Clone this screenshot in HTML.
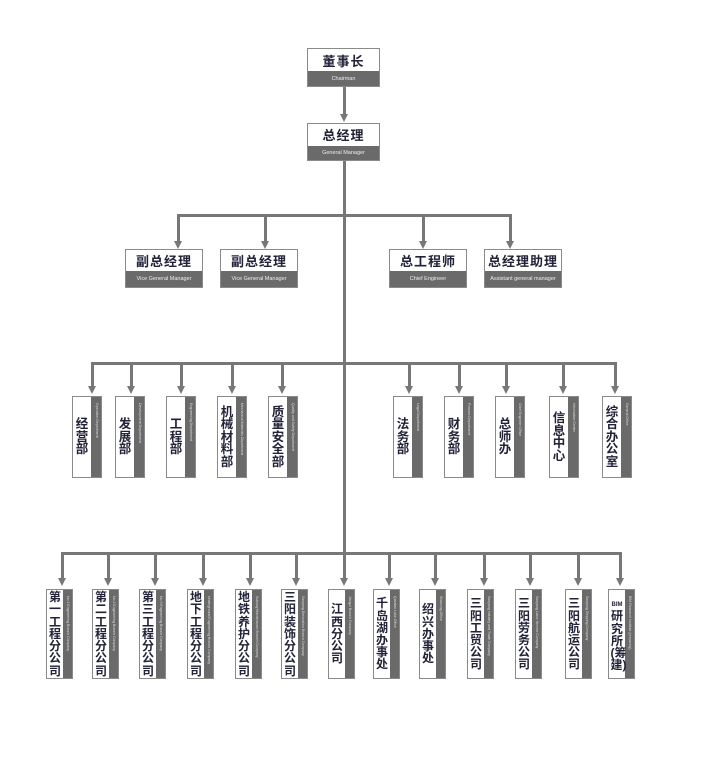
<!DOCTYPE html>
<html><head><meta charset="utf-8"><style>
body{margin:0;width:701px;height:778px;background:#fff;position:relative;overflow:hidden;font-family:"Liberation Sans","Noto Sans CJK SC",sans-serif}
.l{position:absolute;background:#777}
.a{position:absolute;width:0;height:0;border-left:4.5px solid transparent;border-right:4.5px solid transparent;border-top:8px solid #777}
.h{position:absolute;border:1.5px solid #8a8a8a;background:#6a6a6a;box-sizing:border-box}
.h .t{background:#fff;height:58%;display:flex;align-items:center;justify-content:center;font-weight:bold;font-size:13px;color:#222238;letter-spacing:1px}
.h .e{color:#eee;font-size:5.5px;text-align:center;height:42%;display:flex;align-items:center;justify-content:center}
.v{position:absolute;border:1.5px solid #8a8a8a;background:#6a6a6a;box-sizing:border-box}
.v .t{position:absolute;left:0;top:0;bottom:0;background:#fff;display:flex;align-items:center;justify-content:center;font-weight:bold;font-size:12.5px;line-height:12.5px;color:#222238}
.v .t div{width:13px;word-break:break-all;text-align:center}
.v .e{position:absolute;right:0;top:6px;bottom:6px;width:9px;writing-mode:vertical-rl;font-size:3.5px;color:#ddd;overflow:hidden;line-height:9px}
.t2{top:396px;height:82px;width:30px}.t2 .t{width:18px}
.t3{top:589px;height:90px;width:27px}.t3 .t{width:16px;font-size:12px;line-height:12.2px}
</style></head><body>
<div class="h" style="left:307px;top:48px;width:73px;height:39px"><div class="t" style="height:60%">董事长</div><div class="e" style="height:40%">Chairman</div></div>
<div class="l" style="left:343px;top:87px;width:2.5px;height:28px"></div><div class="a" style="left:339.5px;top:114px"></div>
<div class="h" style="left:307px;top:123px;width:73px;height:38px"><div class="t" style="height:60%">总经理</div><div class="e" style="height:40%">General Manager</div></div>
<div class="l" style="left:343px;top:161px;width:2.5px;height:393px"></div>
<div class="l" style="left:177px;top:214px;width:334px;height:2.5px"></div>
<div class="l" style="left:177px;top:214px;width:2.5px;height:28px"></div><div class="a" style="left:174px;top:241px"></div>
<div class="l" style="left:264px;top:214px;width:2.5px;height:28px"></div><div class="a" style="left:261px;top:241px"></div>
<div class="l" style="left:422px;top:214px;width:2.5px;height:28px"></div><div class="a" style="left:419px;top:241px"></div>
<div class="l" style="left:509px;top:214px;width:2.5px;height:28px"></div><div class="a" style="left:506px;top:241px"></div>
<div class="h" style="left:125px;top:249px;width:78px;height:39px"><div class="t">副总经理</div><div class="e">Vice General Manager</div></div>
<div class="h" style="left:220px;top:249px;width:78px;height:39px"><div class="t">副总经理</div><div class="e">Vice General Manager</div></div>
<div class="h" style="left:389px;top:249px;width:78px;height:39px"><div class="t">总工程师</div><div class="e">Chief Engineer</div></div>
<div class="h" style="left:484px;top:249px;width:78px;height:39px"><div class="t">总经理助理</div><div class="e">Assistant general manager</div></div>
<div class="l" style="left:91px;top:362px;width:526px;height:2.5px"></div>
<div class="l" style="left:91px;top:362px;width:2.5px;height:25px"></div><div class="a" style="left:88px;top:386px"></div>
<div class="l" style="left:130px;top:362px;width:2.5px;height:25px"></div><div class="a" style="left:127px;top:386px"></div>
<div class="l" style="left:180px;top:362px;width:2.5px;height:25px"></div><div class="a" style="left:177px;top:386px"></div>
<div class="l" style="left:231px;top:362px;width:2.5px;height:25px"></div><div class="a" style="left:228px;top:386px"></div>
<div class="l" style="left:281px;top:362px;width:2.5px;height:25px"></div><div class="a" style="left:278px;top:386px"></div>
<div class="l" style="left:408px;top:362px;width:2.5px;height:25px"></div><div class="a" style="left:405px;top:386px"></div>
<div class="l" style="left:458px;top:362px;width:2.5px;height:25px"></div><div class="a" style="left:455px;top:386px"></div>
<div class="l" style="left:505px;top:362px;width:2.5px;height:25px"></div><div class="a" style="left:502px;top:386px"></div>
<div class="l" style="left:562px;top:362px;width:2.5px;height:25px"></div><div class="a" style="left:559px;top:386px"></div>
<div class="l" style="left:614px;top:362px;width:2.5px;height:25px"></div><div class="a" style="left:611px;top:386px"></div>
<div class="v t2" style="left:72px"><div class="t"><div>经营部</div></div><div class="e">Operation Department</div></div>
<div class="v t2" style="left:115px"><div class="t"><div>发展部</div></div><div class="e">Development Department</div></div>
<div class="v t2" style="left:166px"><div class="t"><div>工程部</div></div><div class="e">Engineering Department</div></div>
<div class="v t2" style="left:217px"><div class="t"><div>机械材料部</div></div><div class="e">Mechanical Materials Department</div></div>
<div class="v t2" style="left:268px"><div class="t"><div>质量安全部</div></div><div class="e">Quality and Safety Department</div></div>
<div class="v t2" style="left:393px"><div class="t"><div>法务部</div></div><div class="e">Legal Department</div></div>
<div class="v t2" style="left:444px"><div class="t"><div>财务部</div></div><div class="e">Finance Department</div></div>
<div class="v t2" style="left:495px"><div class="t"><div>总师办</div></div><div class="e">Chief Engineer Office</div></div>
<div class="v t2" style="left:549px"><div class="t"><div>信息中心</div></div><div class="e">Information Center</div></div>
<div class="v t2" style="left:602px"><div class="t"><div>综合办公室</div></div><div class="e">General Office</div></div>
<div class="l" style="left:61px;top:552px;width:561px;height:2.5px"></div>
<div class="l" style="left:61px;top:552px;width:2.5px;height:27px"></div><div class="a" style="left:58px;top:578px"></div>
<div class="l" style="left:107px;top:552px;width:2.5px;height:27px"></div><div class="a" style="left:104px;top:578px"></div>
<div class="l" style="left:154px;top:552px;width:2.5px;height:27px"></div><div class="a" style="left:151px;top:578px"></div>
<div class="l" style="left:202px;top:552px;width:2.5px;height:27px"></div><div class="a" style="left:199px;top:578px"></div>
<div class="l" style="left:249px;top:552px;width:2.5px;height:27px"></div><div class="a" style="left:246px;top:578px"></div>
<div class="l" style="left:295px;top:552px;width:2.5px;height:27px"></div><div class="a" style="left:292px;top:578px"></div>
<div class="l" style="left:343px;top:552px;width:2.5px;height:27px"></div><div class="a" style="left:340px;top:578px"></div>
<div class="l" style="left:388px;top:552px;width:2.5px;height:27px"></div><div class="a" style="left:385px;top:578px"></div>
<div class="l" style="left:434px;top:552px;width:2.5px;height:27px"></div><div class="a" style="left:431px;top:578px"></div>
<div class="l" style="left:483px;top:552px;width:2.5px;height:27px"></div><div class="a" style="left:480px;top:578px"></div>
<div class="l" style="left:529px;top:552px;width:2.5px;height:27px"></div><div class="a" style="left:526px;top:578px"></div>
<div class="l" style="left:577px;top:552px;width:2.5px;height:27px"></div><div class="a" style="left:574px;top:578px"></div>
<div class="l" style="left:619px;top:552px;width:2.5px;height:27px"></div><div class="a" style="left:616px;top:578px"></div>
<div class="v t3" style="left:46px"><div class="t"><div>第一工程分公司</div></div><div class="e">No.1 Engineering Branch Company</div></div>
<div class="v t3" style="left:92px"><div class="t"><div>第二工程分公司</div></div><div class="e">No.2 Engineering Branch Company</div></div>
<div class="v t3" style="left:139px"><div class="t"><div>第三工程分公司</div></div><div class="e">No.3 Engineering Branch Company</div></div>
<div class="v t3" style="left:187px"><div class="t"><div>地下工程分公司</div></div><div class="e">Underground Engineering Branch Company</div></div>
<div class="v t3" style="left:235px"><div class="t"><div>地铁养护分公司</div></div><div class="e">Subway Maintenance Branch Company</div></div>
<div class="v t3" style="left:281px"><div class="t"><div>三阳装饰分公司</div></div><div class="e">Sanyang Decoration Branch Company</div></div>
<div class="v t3" style="left:328px"><div class="t"><div>江西分公司</div></div><div class="e">Jiangxi Branch Company</div></div>
<div class="v t3" style="left:373px"><div class="t"><div>千岛湖办事处</div></div><div class="e">Qiandao Lake Office</div></div>
<div class="v t3" style="left:419px"><div class="t"><div>绍兴办事处</div></div><div class="e">Shaoxing Office</div></div>
<div class="v t3" style="left:467px"><div class="t"><div>三阳工贸公司</div></div><div class="e">Sanyang Industry and Trade Company</div></div>
<div class="v t3" style="left:515px"><div class="t"><div>三阳劳务公司</div></div><div class="e">Sanyang Labor Service Company</div></div>
<div class="v t3" style="left:565px"><div class="t"><div>三阳航运公司</div></div><div class="e">Sanyang Shipping Company</div></div>
<div class="v t3" style="left:608px"><div class="t"><div><span style="font-size:6px;line-height:10px">BIM</span>研究所(筹建)</div></div><div class="e">BIM Research Institute (preparing)</div></div>
</body></html>
